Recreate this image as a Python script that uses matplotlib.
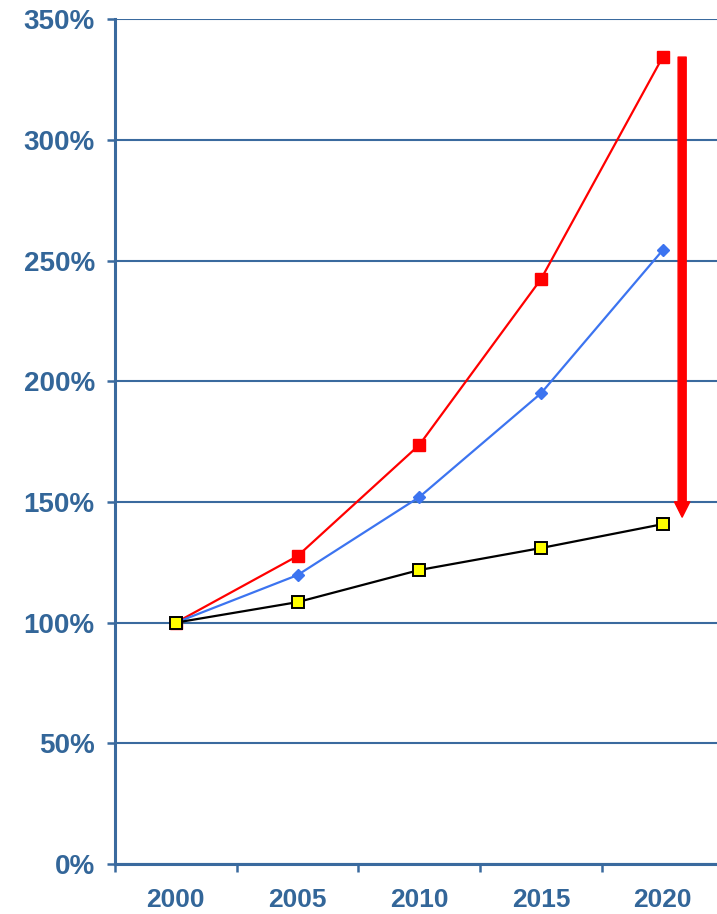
import matplotlib.pyplot as plt
import numpy as np
from matplotlib.ticker import FuncFormatter

# data (percent of 2000 level)
years = ['2000', '2005', '2010', '2015', '2020']
red_vals = [100, 127.6, 173.6, 242.3, 334.3]
blue_vals = [100, 119.7, 152.0, 195.0, 254.3]
black_vals = [100, 108.5, 121.8, 130.9, 140.8]

# arrow: from top of red series down to just above black
arrow_from = 334.3
arrow_to = 143.7

axis_col = '#3A6A9E'
text_col = '#336699'

plt.rcParams['font.family'] = ['Liberation Sans', 'DejaVu Sans']

fig = plt.figure(figsize=(7.17, 9.14), dpi=100)
ax = fig.add_axes([0.1604, 0.0547, 0.8487, 0.9243])

x = np.arange(len(years))

ax.plot(x, red_vals, color='#FF0000', lw=1.6, marker='s', ms=8,
        mfc='#FF0000', mec='#FF0000', zorder=3)
ax.plot(x, blue_vals, color='#3C74F0', lw=1.6, marker='D', ms=6.5,
        mfc='#3C74F0', mec='#3C74F0', zorder=4)
ax.plot(x, black_vals, color='black', lw=1.6, marker='s', ms=8,
        mfc='#FFFF00', mec='black', mew=1.4, zorder=5)

# big red arrow on the right
ax.annotate('', xy=(4.16, arrow_to), xytext=(4.16, arrow_from),
            arrowprops=dict(arrowstyle='simple,head_length=1.1,head_width=1.1,tail_width=0.58',
                            color='#FF0000', mutation_scale=10, shrinkA=0, shrinkB=0),
            zorder=6)

ax.set_xlim(-0.5, 4.5)
ax.set_ylim(0, 350)

ax.set_yticks(np.arange(0, 351, 50))
ax.yaxis.set_major_formatter(FuncFormatter(lambda v, p: '{:d}%'.format(int(v))))
ax.grid(axis='y', color=axis_col, lw=1.5, zorder=1)
ax.set_axisbelow(True)

ax.set_xticks(x)
ax.set_xticklabels(years)
ax.set_xticks(np.arange(-0.5, 4.6, 1), minor=True)
ax.tick_params(axis='x', which='major', length=0, pad=17)
ax.tick_params(axis='x', which='minor', length=6, width=1.8, color=axis_col, direction='out')
ax.tick_params(axis='y', length=6, width=1.8, color=axis_col, pad=8.5)

for lab in ax.get_xticklabels():
    lab.set_fontsize(19)
for lab in ax.get_yticklabels():
    lab.set_fontsize(20)
for lab in ax.get_xticklabels() + ax.get_yticklabels():
    lab.set_fontweight('bold')
    lab.set_color(text_col)

for s in ['top', 'right']:
    ax.spines[s].set_visible(False)
for s in ['left', 'bottom']:
    ax.spines[s].set_color(axis_col)
    ax.spines[s].set_linewidth(2.2)

fig.savefig('out.png', dpi=100)
